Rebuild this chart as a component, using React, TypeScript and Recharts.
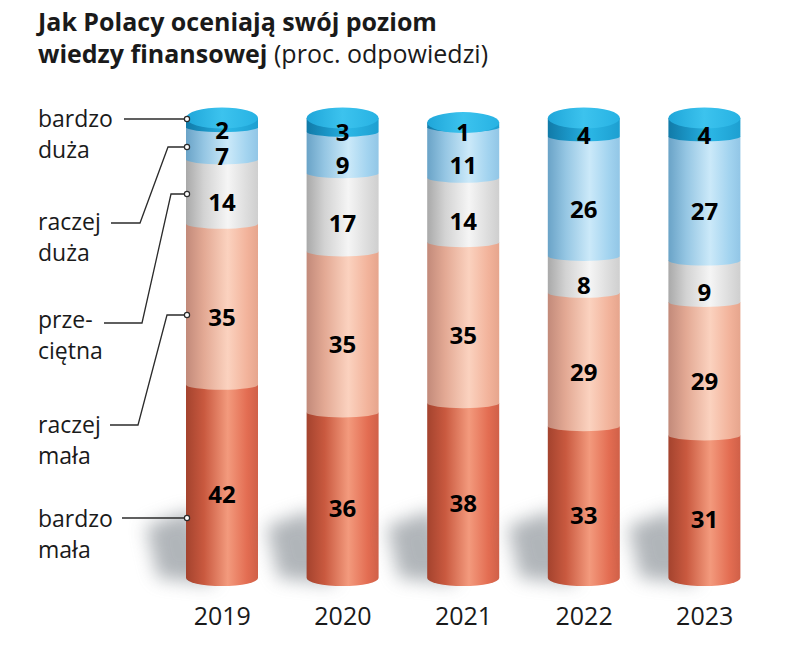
import { Bar, BarChart, LabelList, XAxis, YAxis } from "recharts";

/* Stacked "cylinder" bars: how Poles rate their financial knowledge. */

const years = ["2019", "2020", "2021", "2022", "2023"];
const bardzoMala = [42, 36, 38, 33, 31];
const raczejMala = [35, 35, 35, 29, 29];
const przecietna = [14, 17, 14, 8, 9];
const raczejDuza = [7, 9, 11, 26, 27];
const bardzoDuza = [2, 3, 1, 4, 4];

const data = years.map((year, i) => ({
  year,
  bm: bardzoMala[i],
  rm: raczejMala[i],
  pr: przecietna[i],
  rd: raczejDuza[i],
  bd: bardzoDuza[i],
}));

const FONT = "'Open Sans', 'Noto Sans', sans-serif";
const INK = "#1a1a1a";

const makeShape =
  (grad: string, opts: { base?: boolean; top?: boolean } = {}) =>
  (p: any) => {
    const { x, y, width: w, height: h } = p;
    if (w == null || h == null || isNaN(y)) return <g />;
    const rx = w / 2;
    const bulge = opts.base ? 8 : 5;
    const yb = y + h;
    const d = `M${x},${y} L${x + w},${y} L${x + w},${yb} A${rx},${bulge} 0 0 1 ${x},${yb} Z`;
    return (
      <g>
        {opts.base && (
          <polygon
            points={`${x + w * 0.4},${yb + 6} ${x + 6},${yb - 68} ${x - 40},${yb - 52} ${x - 28},${yb}`}
            fill="#7d848b"
            opacity={0.6}
            filter="url(#shadowBlur)"
          />
        )}
        <path d={d} fill={`url(#${grad})`} />
        {opts.top && <ellipse cx={x + rx} cy={y} rx={rx} ry={10.5} fill="url(#gTop)" />}
      </g>
    );
  };

// top segment labels sit a little higher so they don't crowd the one below
const valueLabel = (shift: number) => (p: any) => {
  const { x, y, width, height, value } = p;
  if (value == null) return null;
  return (
    <text
      x={x + width / 2}
      y={y + height / 2 + shift}
      textAnchor="middle"
      dominantBaseline="central"
      fontFamily={FONT}
      fontWeight={700}
      fontSize={24}
      fill="#000"
    >
      {value}
    </text>
  );
};

const YearTick = (p: any) => (
  <text x={p.x} y={p.y + 39} textAnchor="middle" fontFamily={FONT} fontSize={25} fill={INK}>
    {p.payload.value}
  </text>
);

const grad = (id: string, stops: [number, string][]) => (
  <linearGradient id={id} x1="0" y1="0" x2="1" y2="0">
    {stops.map(([o, c]) => (
      <stop key={o} offset={`${o}%`} stopColor={c} />
    ))}
  </linearGradient>
);

const sideLabels: { lines: string[]; y: number }[] = [
  { lines: ["bardzo", "duża"], y: 127 },
  { lines: ["raczej", "duża"], y: 230 },
  { lines: ["prze-", "ciętna"], y: 328 },
  { lines: ["raczej", "mała"], y: 433 },
  { lines: ["bardzo", "mała"], y: 527 },
];

const connectors: { d: string; end: [number, number] }[] = [
  { d: "M124,119 H187", end: [187, 119] },
  { d: "M111,223 H140 L168,147 H187", end: [187, 147] },
  { d: "M104,323 H142 L171,194 H187", end: [187, 194] },
  { d: "M110,425 H138 L167,315 H187", end: [187, 315] },
  { d: "M122,518 H187", end: [187, 518] },
];

export default function App() {
  return (
    <div style={{ position: "absolute", left: 0, top: 0, width: 788, height: 663, background: "#fff" }}>
      <BarChart
        width={788}
        height={663}
        data={data}
        margin={{ top: 118, right: 23, bottom: 0, left: 162 }}
        barSize={72}
      >
        <defs>
          {grad("gBm", [
            [0, "#a4432e"],
            [25, "#c9593f"],
            [58, "#f39a7d"],
            [85, "#e36d52"],
            [100, "#d06048"],
          ])}
          {grad("gRm", [
            [0, "#c28a7a"],
            [25, "#e3a994"],
            [58, "#fbd2bf"],
            [85, "#f2b39b"],
            [100, "#e6a58d"],
          ])}
          {grad("gPr", [
            [0, "#a9a9a9"],
            [25, "#d3d3d3"],
            [58, "#f5f5f5"],
            [85, "#dcdcdc"],
            [100, "#cfcfcf"],
          ])}
          {grad("gRd", [
            [0, "#6aa3c7"],
            [25, "#95c6e3"],
            [58, "#cbe9f9"],
            [85, "#a2d3ef"],
            [100, "#92c6e6"],
          ])}
          {grad("gBd", [
            [0, "#117aa8"],
            [30, "#1b97c8"],
            [60, "#2ab5e4"],
            [100, "#1d9fd1"],
          ])}
          {grad("gTop", [
            [0, "#1fa6d9"],
            [50, "#3cc3ee"],
            [100, "#27b2e3"],
          ])}
          <filter id="shadowBlur" x="-100%" y="-100%" width="300%" height="300%">
            <feGaussianBlur stdDeviation="9" />
          </filter>
        </defs>
        <XAxis dataKey="year" axisLine={false} tickLine={false} height={85} tick={<YearTick />} interval={0} />
        <YAxis hide domain={[0, 100]} />
        <Bar dataKey="bm" stackId="a" shape={makeShape("gBm", { base: true })} isAnimationActive={false}>
          <LabelList dataKey="bm" content={valueLabel(12)} />
        </Bar>
        <Bar dataKey="rm" stackId="a" shape={makeShape("gRm")} isAnimationActive={false}>
          <LabelList dataKey="rm" content={valueLabel(12)} />
        </Bar>
        <Bar dataKey="pr" stackId="a" shape={makeShape("gPr")} isAnimationActive={false}>
          <LabelList dataKey="pr" content={valueLabel(10)} />
        </Bar>
        <Bar dataKey="rd" stackId="a" shape={makeShape("gRd")} isAnimationActive={false}>
          <LabelList dataKey="rd" content={valueLabel(12)} />
        </Bar>
        <Bar dataKey="bd" stackId="a" shape={makeShape("gBd", { top: true })} isAnimationActive={false}>
          <LabelList dataKey="bd" content={valueLabel(7)} />
        </Bar>
      </BarChart>

      <svg
        width={788}
        height={663}
        style={{ position: "absolute", left: 0, top: 0, pointerEvents: "none" }}
      >
        <text fontFamily={FONT} fontSize={25} fill={INK}>
          <tspan x={38} y={31} fontWeight={700}>
            Jak Polacy oceniają swój poziom
          </tspan>
          <tspan x={38} y={63} fontWeight={700}>
            wiedzy finansowej
          </tspan>
          <tspan fontWeight={400}> (proc. odpowiedzi)</tspan>
        </text>

        {sideLabels.map((l) => (
          <text key={l.y} fontFamily={FONT} fontSize={23} fill={INK}>
            <tspan x={38} y={l.y}>
              {l.lines[0]}
            </tspan>
            <tspan x={38} y={l.y + 31}>
              {l.lines[1]}
            </tspan>
          </text>
        ))}

        {connectors.map((c) => (
          <g key={c.d}>
            <path d={c.d} fill="none" stroke="#2b2b2b" strokeWidth={1.3} />
            <circle cx={c.end[0]} cy={c.end[1]} r={2.6} fill="#fff" stroke="#2b2b2b" strokeWidth={1.2} />
          </g>
        ))}
      </svg>
    </div>
  );
}
